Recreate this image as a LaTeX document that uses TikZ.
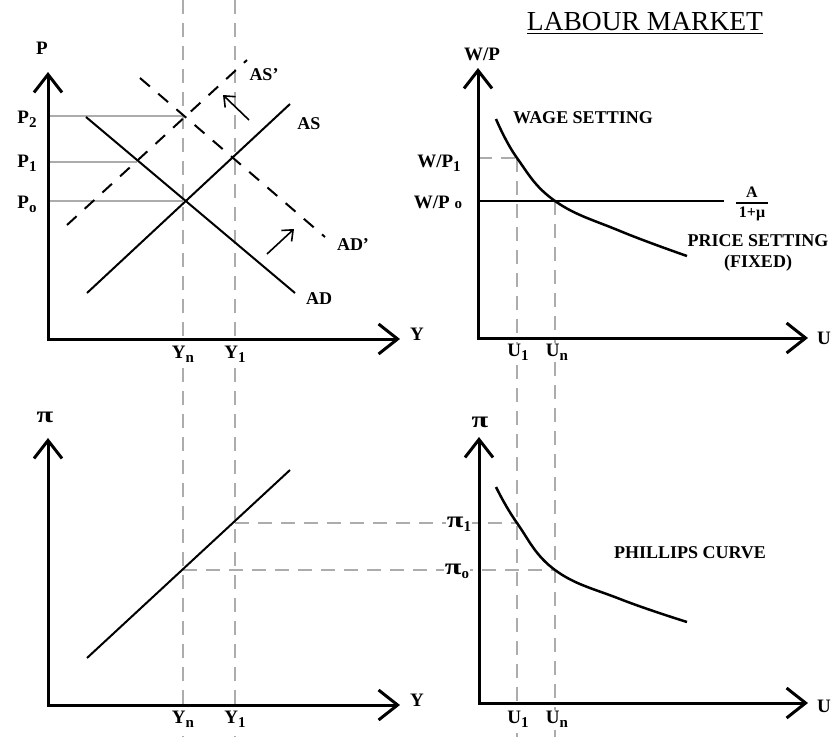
\documentclass[tikz,border=0pt]{standalone}
\usepackage{fontspec}
\setmainfont{Liberation Serif}
\usetikzlibrary{arrows.meta}
\definecolor{guide}{RGB}{172,172,172}
\newcommand{\lo}[1]{\raisebox{-4pt}{\fontsize{15}{15}\selectfont #1}}
\newcommand{\bigpi}{\scalebox{1.6}[1.2]{π}}
\tikzset{
  axis/.style={line width=3pt,line join=miter,
               {Straight Barb[length=18pt,width=28pt]}-{Straight Barb[length=19pt,width=30pt]}},
  curve/.style={line width=2pt},
  shifted/.style={line width=2pt,dash pattern=on 13pt off 11pt},
  guideline/.style={guide,line width=2pt},
  guidedash/.style={guide,line width=2pt,dash pattern=on 14pt off 9pt},
  shiftarr/.style={line width=1.6pt,-{Straight Barb[length=9pt,width=15pt]}},
  lab/.style={font=\fontsize{19}{21}\selectfont\bfseries,inner sep=1pt},
  tag/.style={font=\fontsize{18}{20}\selectfont\bfseries,inner sep=1pt},
  mask/.style={fill=white},
}

\begin{document}
\begin{tikzpicture}[x=1pt,y=-1pt]
  \useasboundingbox (0,0) rectangle (836,737);

  %% ── Guide lines ──────────────────────────────────────────────────────────
  \draw[guidedash] (183,0) -- (183,737);
  \draw[guidedash] (235,0) -- (235,737);
  \draw[guidedash] (517,158) -- (517,737);
  \draw[guidedash] (555,201) -- (555,737);
  \draw[guidedash] (478,158) -- (517,158);
  \draw[guidedash] (235,523) -- (517,523);
  \draw[guidedash] (183,570) -- (555,570);
  \draw[guideline] (49,116) -- (183,116);
  \draw[guideline] (49,162) -- (137,162);
  \draw[guideline] (49,201) -- (183,201);

  %% ── Axes ─────────────────────────────────────────────────────────────────
  \draw[axis] (48,72)  -- (48,339)  -- (400,339);
  \draw[axis] (478,68) -- (478,338) -- (808,338);
  \draw[axis] (48,438) -- (48,705)  -- (400,705);
  \draw[axis] (479,437) -- (479,703) -- (808,703);

  %% ── Axis labels ──────────────────────────────────────────────────────────
  \node[lab] (P)   at (42,48)   {P};
  \node[lab] (Pt)  at (27,119)  {P\lo{2}};
  \node[lab] (Po)  at (27,163)  {P\lo{1}};
  \node[lab] (Pz)  at (27,204)  {P\lo{o}};
  \node[lab] (Ya)  at (417,334) {Y};
  \node[lab,mask] (Yna) at (183,354) {Y\lo{n}};
  \node[lab,mask] (Yoa) at (235,354) {Y\lo{1}};

  \node[lab] (WP)  at (482,54)  {W/P};
  \node[lab] (WPo) at (439,163) {W/P\lo{1}};
  \node[lab] (WPz) at (438,202) {W/P {\fontsize{15}{15}\selectfont o}};
  \node[lab] (Ua)  at (824,338) {U};
  \node[lab,mask] (Uoa) at (518,352) {U\lo{1}};
  \node[lab,mask] (Una) at (557,352) {U\lo{n}};

  \node[lab] (pia) at (45,417)  {\bigpi};
  \node[lab] (Yb)  at (417,700) {Y};
  \node[lab,mask] (Ynb) at (183,719) {Y\lo{n}};
  \node[lab,mask] (Yob) at (235,719) {Y\lo{1}};

  \node[lab] (pib) at (480,422) {\bigpi};
  \node[lab,mask] (pio) at (459,524) {\bigpi\lo{1}};
  \node[lab,mask] (piz) at (457,571) {\bigpi\lo{o}};
  \node[lab] (Ub)  at (824,706) {U};
  \node[lab,mask] (Uob) at (518,719) {U\lo{1}};
  \node[lab,mask] (Unb) at (557,719) {U\lo{n}};

  %% ── AS / AD ──────────────────────────────────────────────────────────────
  \draw[curve] (86,117) -- (295,293);
  \draw[curve] (87,293) -- (290,104);
  \draw[shifted] (67,225) -- (247,60);
  \draw[shifted] (140,78) -- (325,237);
  \draw[shiftarr] (249,120) -- (223,95);
  \draw[shiftarr] (267,254) -- (294,229);
  \node[tag] (AD)  at (319,299) {AD};
  \node[tag] (AS)  at (309,124) {AS};
  \node[tag] (ASs) at (264,75)  {AS'};
  \node[tag] (ADs) at (353,245) {AD'};

  %% ── Labour market ────────────────────────────────────────────────────────
  \node[font=\fontsize{27.5}{30}\selectfont,inner sep=0pt] (title) at (645,22) {LABOUR MARKET};
  \draw[line width=1.6pt] ([yshift=-2.5pt]title.base west) -- ([yshift=-2.5pt]title.base east);
  \draw[curve] (478,201) -- (724,201);
  \draw[line width=2.5pt] plot[smooth,tension=0.7] coordinates
    {(496,119) (517,158) (555,201) (620,231) (687,256)};
  \node[tag] (WS) at (583,118) {WAGE SETTING};
  \node[tag] (PS) at (758,241) {PRICE SETTING};
  \node[tag] (FX) at (758,263) {(FIXED)};
  \node[lab,font=\fontsize{16}{18}\selectfont\bfseries] (num) at (752,192) {A};
  \node[lab,font=\fontsize{16}{18}\selectfont\bfseries] (den) at (752,214) {1+μ};
  \draw[line width=1.2pt] (736,203) -- (768,203);

  %% ── Phillips curve ───────────────────────────────────────────────────────
  \draw[curve] (87,658) -- (290,470);
  \draw[line width=2.5pt] plot[smooth,tension=0.7] coordinates
    {(496,487) (517,523) (555,570) (620,599) (687,622)};
  \node[tag] (PC) at (690,553) {PHILLIPS CURVE};
\end{tikzpicture}
\end{document}
